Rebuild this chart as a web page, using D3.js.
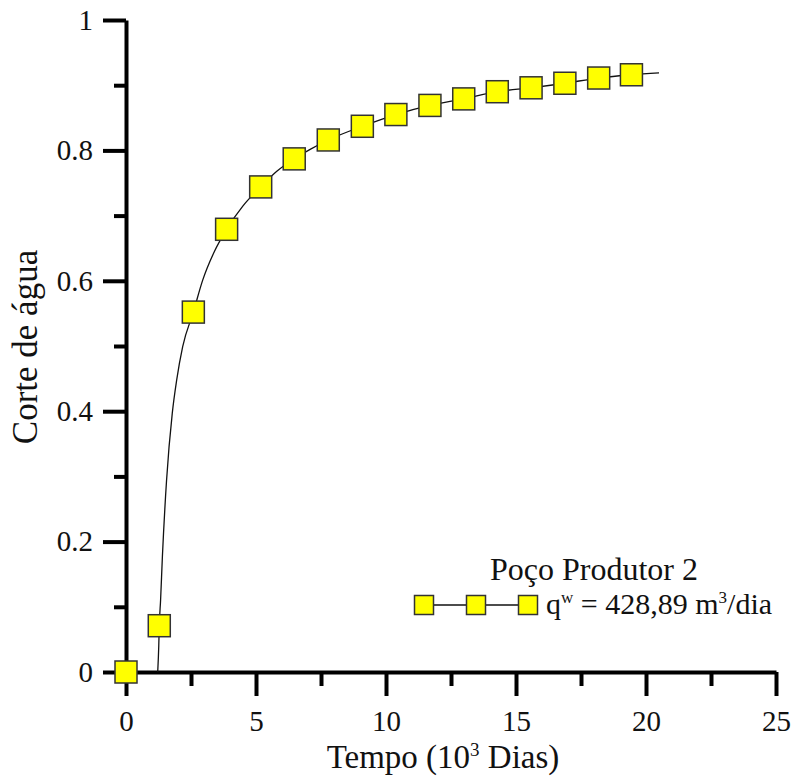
<!DOCTYPE html>
<html>
<head>
<meta charset="utf-8">
<script src="https://cdn.jsdelivr.net/npm/d3@7"></script>
<style>
  body { margin: 0; background: #fff; }
  svg text { font-family: "Liberation Serif", "DejaVu Serif", serif; fill: #111; }
</style>
</head>
<body>
<div id="chart"></div>
<script>
// markers (simulation output sampled every 1.3e3 days)
const markerTime = [0, 1.28, 2.59, 3.87, 5.18, 6.47, 7.78, 9.09, 10.38, 11.69, 12.99, 14.28, 15.58, 16.88, 18.18, 19.44];
const markerCut  = [0, 0.071, 0.552, 0.679, 0.744, 0.787, 0.816, 0.837, 0.855, 0.869, 0.879, 0.890, 0.896, 0.903, 0.911, 0.916];

// thin continuous curve
const curveTime = [1.22, 1.26, 1.28, 1.33, 1.40, 1.56, 1.78, 1.95, 2.18, 2.59, 2.95, 3.4, 3.87, 4.5, 5.18, 5.8, 6.47, 7.1, 7.78, 9.09, 10.38, 11.69, 12.99, 14.28, 15.58, 16.88, 18.18, 19.44, 20.5];
const curveCut  = [0, 0.04, 0.071, 0.11, 0.177, 0.294, 0.397, 0.448, 0.499, 0.552, 0.601, 0.645, 0.679, 0.715, 0.744, 0.768, 0.787, 0.802, 0.816, 0.837, 0.855, 0.869, 0.879, 0.890, 0.896, 0.903, 0.911, 0.916, 0.919];

const xMajor = [0, 5, 10, 15, 20, 25];
const xMinor = [2.5, 7.5, 12.5, 17.5, 22.5];
const yMajor = [0, 0.2, 0.4, 0.6, 0.8, 1];
const yMinor = [0.1, 0.3, 0.5, 0.7, 0.9];

const width = 795, height = 780;
const serif = '"Liberation Serif", "DejaVu Serif", serif';

const svg = d3.select('#chart')
  .append('svg')
  .attr('width', width)
  .attr('height', height)
  .attr('font-family', serif);

const x = d3.scaleLinear().domain([0, 25]).range([126, 776]);
const y = d3.scaleLinear().domain([0, 1]).range([672, 20]);

// minor ticks first
svg.append('g')
  .attr('transform', `translate(0,${y(0)})`)
  .call(d3.axisBottom(x).tickValues(xMinor).tickSize(14).tickFormat(''))
  .call(g => g.select('.domain').remove())
  .call(g => g.selectAll('line').attr('stroke', '#000').attr('stroke-width', 4));

svg.append('g')
  .attr('transform', `translate(${x(0)},0)`)
  .call(d3.axisLeft(y).tickValues(yMinor).tickSize(12).tickFormat(''))
  .call(g => g.select('.domain').remove())
  .call(g => g.selectAll('line').attr('stroke', '#000').attr('stroke-width', 4));

// major axes
const xAxis = svg.append('g')
  .attr('transform', `translate(0,${y(0)})`)
  .call(d3.axisBottom(x).tickValues(xMajor).tickSize(24).tickSizeOuter(0).tickPadding(14).tickFormat(d3.format('d')));

const yAxis = svg.append('g')
  .attr('transform', `translate(${x(0)},0)`)
  .call(d3.axisLeft(y).tickValues(yMajor).tickSize(23).tickSizeOuter(0).tickPadding(10)
    .tickFormat(d => d === 0 || d === 1 ? String(d) : d3.format('.1f')(d)));

[xAxis, yAxis].forEach(ax => {
  ax.attr('font-family', serif).attr('font-size', 29);
  ax.select('.domain').attr('stroke', '#000').attr('stroke-width', 4);
  ax.selectAll('.tick line').attr('stroke', '#000').attr('stroke-width', 4);
  ax.selectAll('.tick text').attr('fill', '#111');
});

// curve
const curve = curveTime.map((t, i) => [t, curveCut[i]]);
svg.append('path')
  .datum(curve)
  .attr('fill', 'none')
  .attr('stroke', '#111')
  .attr('stroke-width', 1.3)
  .attr('d', d3.line().x(d => x(d[0])).y(d => y(d[1])).curve(d3.curveMonotoneX));

// markers
const ms = 22;
svg.selectAll('rect.marker')
  .data(markerTime.map((t, i) => [t, markerCut[i]]))
  .enter()
  .append('rect')
  .attr('class', 'marker')
  .attr('x', d => x(d[0]) - ms / 2)
  .attr('y', d => y(d[1]) - ms / 2)
  .attr('width', ms)
  .attr('height', ms)
  .attr('fill', '#ffff00')
  .attr('stroke', '#333')
  .attr('stroke-width', 1.5);

// axis titles
svg.append('text')
  .attr('x', 443)
  .attr('y', 768)
  .attr('text-anchor', 'middle')
  .attr('font-size', 33)
  .call(t => {
    t.append('tspan').text('Tempo (10');
    t.append('tspan').attr('dy', -12).attr('font-size', 19).text('3');
    t.append('tspan').attr('dy', 12).text(' Dias)');
  });

svg.append('text')
  .attr('transform', 'translate(37,347) rotate(-90)')
  .attr('text-anchor', 'middle')
  .attr('font-size', 35)
  .text('Corte de água');

// legend
svg.append('text')
  .attr('x', 594)
  .attr('y', 580)
  .attr('text-anchor', 'middle')
  .attr('font-size', 32)
  .text('Poço Produtor 2');

const legY = 605;
svg.append('line')
  .attr('x1', 424).attr('x2', 528)
  .attr('y1', legY).attr('y2', legY)
  .attr('stroke', '#111').attr('stroke-width', 1.3);

const ls = 19;
svg.selectAll('rect.leg')
  .data([424, 476, 528])
  .enter()
  .append('rect')
  .attr('class', 'leg')
  .attr('x', d => d - ls / 2)
  .attr('y', legY - ls / 2)
  .attr('width', ls)
  .attr('height', ls)
  .attr('fill', '#ffff00')
  .attr('stroke', '#333')
  .attr('stroke-width', 1.5);

svg.append('text')
  .attr('x', 546)
  .attr('y', 614)
  .attr('font-size', 30)
  .call(t => {
    t.append('tspan').text('q');
    t.append('tspan').attr('dy', -11).attr('font-size', 17).text('w');
    t.append('tspan').attr('dy', 11).text(' = 428,89 m');
    t.append('tspan').attr('dy', -11).attr('font-size', 17).text('3');
    t.append('tspan').attr('dy', 11).text('/dia');
  });
</script>
</body>
</html>
